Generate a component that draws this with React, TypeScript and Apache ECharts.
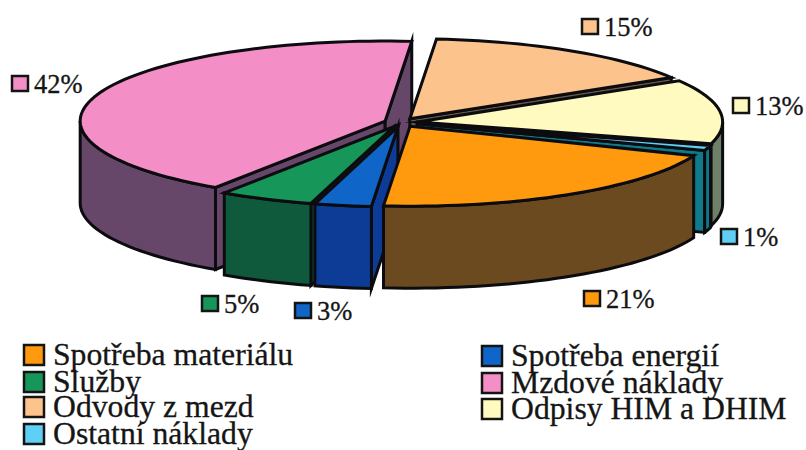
import React, { useEffect, useRef } from "react";
import * as echarts from "echarts";

const categories = ["Spotřeba materiálu", "Spotřeba energií", "Služby", "Mzdové náklady", "Odvody z mezd", "Odpisy HIM a DHIM", "Ostatní náklady"];
const values = [21, 3, 5, 42, 15, 13, 1];
const topColors = ["#ff9a0e", "#0f66c8", "#17965a", "#f48ec6", "#fdc38c", "#fffbc0", "#5fcff5"];
const wallColors = ["#6b4a20", "#0d3c96", "#0f5a3c", "#664769", "#6b5a48", "#6f8068", "#0f7a8a"];
const rimTrimDegrees = [2.2, 0, 0, 0, 0, 0, 0];
const drawOrder = [3, 4, 5, 6, 2, 1, 0];

const START_ANGLE = 109.4;
const CX = 401, CY = 122.5, RX = 305, RY = 80, DEPTH = 82, EXPLODE = 0.055;
const total = values.reduce((a, b) => a + b, 0);

const labelBoxes = [
  { i: 0, x: 584, y: 291 }, { i: 1, x: 295, y: 303 }, { i: 2, x: 202, y: 296 }, { i: 3, x: 12, y: 76 },
  { i: 4, x: 582, y: 19 }, { i: 5, x: 733, y: 98 }, { i: 6, x: 721, y: 229 },
];
const legendCells = [
  { i: 0, x: 24, y: 345 }, { i: 2, x: 24, y: 372 }, { i: 4, x: 24, y: 397 }, { i: 6, x: 24, y: 424 },
  { i: 1, x: 482, y: 346 }, { i: 3, x: 482, y: 373 }, { i: 5, x: 482, y: 399 },
];

const rad = (d: number) => (d * Math.PI) / 180;

function sliceRange(index: number) {
  let a0 = START_ANGLE;
  for (let k = 0; k < index; k++) a0 += (values[k] / total) * 360;
  const a1 = a0 + (values[index] / total) * 360;
  return a0 >= 360 ? [a0 - 360, a1 - 360] : [a0, a1];
}

function renderItem(_params: any, api: any) {
  const index = api.value(1);
  const [full0, a1] = sliceRange(index);
  const a0 = full0 + rimTrimDegrees[index];
  const mid = rad((full0 + a1) / 2);
  const ax = CX + EXPLODE * RX * Math.sin(mid);
  const ay = CY - EXPLODE * RY * Math.cos(mid);
  const rim = (d: number): number[] => [ax + RX * Math.sin(rad(d)), ay - RY * Math.cos(rad(d))];
  const drop = (p: number[]): number[] => [p[0], p[1] + DEPTH];
  const arc = (from: number, to: number) => {
    const n = Math.max(2, Math.ceil((to - from) / 2));
    const pts: number[][] = [];
    for (let k = 0; k <= n; k++) pts.push(rim(from + ((to - from) * k) / n));
    return pts;
  };
  const edge = { stroke: "#0c0c10", lineWidth: 3, lineJoin: "miter", miterLimit: 30 };
  const poly = (points: number[][], fill: string) => ({
    type: "polygon",
    shape: { points },
    style: { fill, ...edge },
  });
  const apex = [ax, ay];
  const children: any[] = [];
  const side = wallColors[index];
  if (Math.sin(rad(a0)) < 0) {
    const p = rim(a0);
    children.push(poly([apex, p, drop(p), drop(apex)], side));
  }
  if (Math.sin(rad(a1)) > 0) {
    const p = rim(a1);
    children.push(poly([apex, p, drop(p), drop(apex)], side));
  }
  const wa = Math.max(a0, 90), wb = Math.min(a1, 270);
  if (wb > wa) {
    const upper = arc(wa, wb);
    children.push(poly([...upper, ...upper.slice().reverse().map((p) => drop(p))], side));
  }
  children.push(poly([apex, ...arc(a0, a1)], topColors[index]));
  return { type: "group", children };
}

export default function App() {
  const ref = useRef<HTMLDivElement>(null);
  useEffect(() => {
    const chart = echarts.init(ref.current!, undefined, { renderer: "svg" });
    const font = "Liberation Serif";
    const graphics: any[] = [];
    labelBoxes.forEach(({ i, x, y }) => {
      graphics.push({
        type: "rect", x, y, shape: { x: 0, y: 0, width: 16, height: 15 },
        style: { fill: topColors[i], stroke: "#141414", lineWidth: 2.5 },
      });
      graphics.push({
        type: "text", x: x + 22, y: y + 8,
        style: { text: `${values[i]}%`, font: `26.5px "${font}"`, fill: "#151515", stroke: "#151515", lineWidth: 0.3, verticalAlign: "middle", align: "left" },
      });
    });
    legendCells.forEach(({ i, x, y }) => {
      graphics.push({
        type: "rect", x, y, shape: { x: 0, y: 0, width: 20, height: 20 },
        style: { fill: topColors[i], stroke: "#141414", lineWidth: 2.5 },
      });
      graphics.push({
        type: "text", x: x + 29, y: y + 9,
        style: { text: categories[i], font: `31.7px "${font}"`, fill: "#151515", stroke: "#151515", lineWidth: 0.3, verticalAlign: "middle", align: "left" },
      });
    });
    chart.setOption({
      animation: false,
      backgroundColor: "#ffffff",
      series: [
        {
          type: "custom",
          coordinateSystem: "none",
          silent: true,
          renderItem,
          clip: false,
          data: drawOrder.map((i) => [values[i], i]),
        },
      ],
      graphic: { elements: graphics },
    });
    return () => chart.dispose();
  }, []);
  return <div ref={ref} style={{ position: "absolute", left: 0, top: 0, width: 806, height: 450 }} />;
}
